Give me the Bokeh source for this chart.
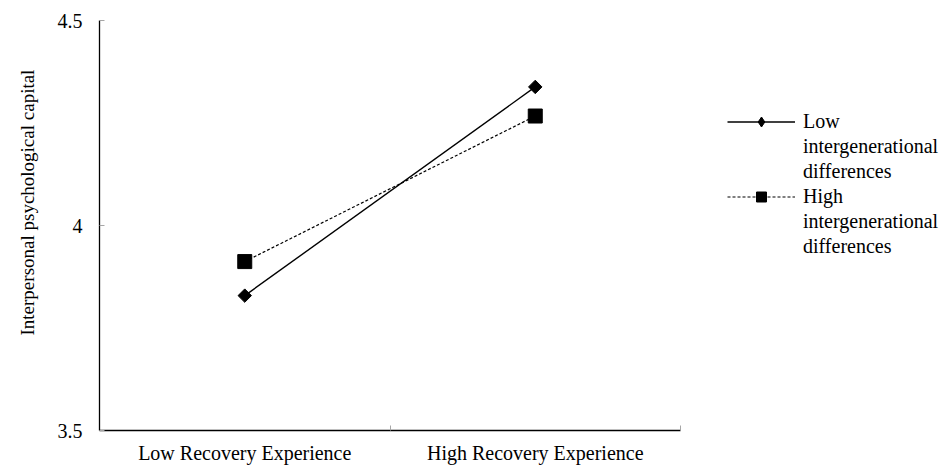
import numpy as np
from bokeh.plotting import figure
from bokeh.models import (ColumnDataSource, FixedTicker, NumeralTickFormatter,
                          Legend, LegendItem, Range1d, Title)
from bokeh.embed import file_html
from bokeh.resources import INLINE

# ---- data ----
categories = ["Low Recovery Experience", "High Recovery Experience"]
low_diff = [3.829, 4.338]    # Low intergenerational differences
high_diff = [3.912, 4.267]   # High intergenerational differences
y_ticks = [3.5, 4.0, 4.5]

FONT = "Liberation Serif"
FS = "20px"

xpos = [i + 0.5 for i in range(len(categories))]
src_low = ColumnDataSource(dict(x=xpos, y=low_diff))
src_high = ColumnDataSource(dict(x=xpos, y=high_diff))

p = figure(frame_width=581, frame_height=410,
           min_border_left=99, min_border_right=261,
           min_border_top=20, min_border_bottom=38,
           x_range=Range1d(0, len(categories)), y_range=Range1d(3.5, 4.5),
           output_backend="svg", toolbar_location=None)
p.outline_line_color = None
p.grid.visible = False
p.background_fill_color = "white"
p.border_fill_color = "white"

# series
l1 = p.line("x", "y", source=src_low, line_color="black", line_width=1.4)
m1 = p.scatter("x", "y", source=src_low, marker="square", angle=np.pi / 4,
               size=9.5, fill_color="black", line_color="black")
l2 = p.line("x", "y", source=src_high, line_color="black", line_width=1.2,
            line_dash="3 2")
m2 = p.scatter("x", "y", source=src_high, marker="square", size=14,
               fill_color="black", line_color="black")
# diamond used for the legend swatch (zero size in the plot, hidden under m1)
lg_diamond = p.scatter("x", "y", source=src_low, marker="diamond", size=0,
                       fill_color="black", line_color="black")
blank = p.line(x=[], y=[], line_alpha=0)

# x axis
xa = p.xaxis[0]
xa.ticker = FixedTicker(ticks=xpos, minor_ticks=[1, 2])
xa.major_label_overrides = {xp: c for xp, c in zip(xpos, categories)}
xa.major_tick_line_color = None
xa.minor_tick_in = 5
xa.minor_tick_out = 0
xa.minor_tick_line_color = "#a6a6a6"
xa.axis_line_color = "black"
xa.axis_line_width = 1.3
xa.major_label_text_font = FONT
xa.major_label_text_font_size = FS
xa.major_label_text_color = "black"
xa.major_label_standoff = 5

# y axis
ya = p.yaxis[0]
ya.ticker = FixedTicker(ticks=y_ticks)
ya.formatter = NumeralTickFormatter(format="0.[0]")
ya.minor_tick_line_color = None
ya.major_tick_in = 5
ya.major_tick_out = 0
ya.major_tick_line_color = "#a6a6a6"
ya.axis_line_color = "black"
ya.axis_line_width = 1.3
ya.major_label_text_font = FONT
ya.major_label_text_font_size = FS
ya.major_label_text_color = "black"
ya.major_label_standoff = 17

ytitle = Title(text="Interpersonal psychological capital", align="left",
               offset=95, standoff=30, vertical_align="top",
               text_font=FONT, text_font_size="19px",
               text_font_style="normal", text_color="black")
p.add_layout(ytitle, "left")

items = [LegendItem(label="Low", renderers=[l1, lg_diamond]),
         LegendItem(label="intergenerational", renderers=[blank]),
         LegendItem(label="differences", renderers=[blank]),
         LegendItem(label="High", renderers=[l2, m2]),
         LegendItem(label="intergenerational", renderers=[blank]),
         LegendItem(label="differences", renderers=[blank])]
legend = Legend(items=items, location=(47, 171), margin=0, padding=0,
                spacing=0, glyph_width=68, glyph_height=25, label_height=25,
                label_standoff=8, border_line_color=None,
                background_fill_alpha=0, label_text_font=FONT,
                label_text_font_size=FS, label_text_color="black")
p.add_layout(legend, "right")

open("out.html", "w").write(file_html(p, INLINE))
